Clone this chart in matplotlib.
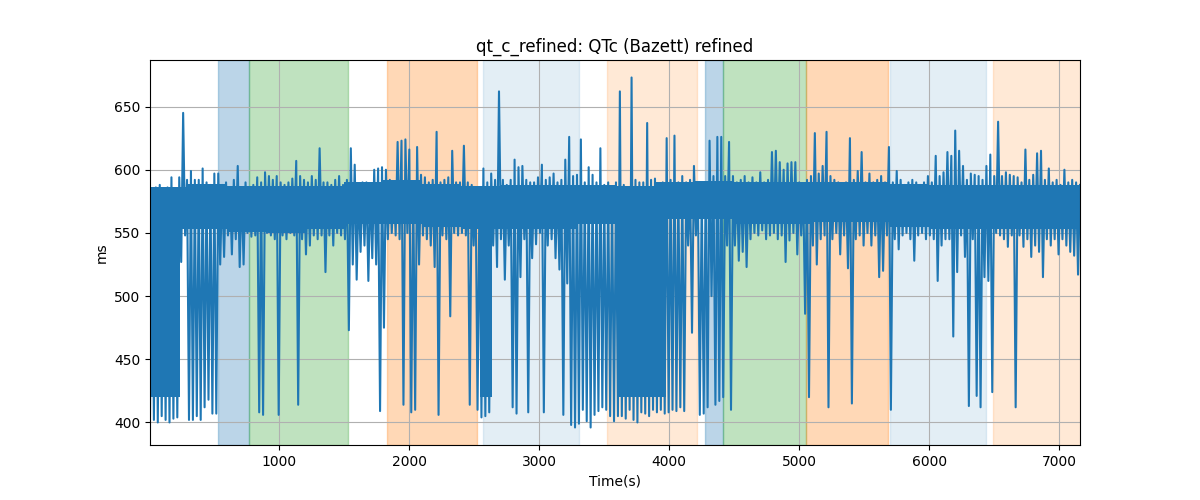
import numpy as np
import matplotlib
matplotlib.use("Agg")
import matplotlib.pyplot as plt

# QTc in 30 s bins: lowest and highest value in each bin
bin_width = 30
qtc_low = [
    405, 402, 400, 405, 402, 400, 403, 404, 527, 548,
    402, 402, 405, 402, 412, 418, 407, 407, 525, 531,
    548, 533, 545, 523, 525, 550, 547, 548, 408, 406,
    550, 548, 545, 406, 548, 545, 550, 548, 414, 545,
    533, 540, 548, 545, 548, 519, 548, 540, 550, 548,
    545, 473, 525, 513, 535, 540, 512, 530, 525, 409,
    475, 545, 550, 548, 545, 414, 550, 408, 410, 525,
    548, 545, 540, 523, 406, 548, 545, 484, 550, 548,
    550, 548, 414, 540, 410, 404, 405, 408, 540, 523,
    545, 513, 540, 412, 407, 515, 545, 408, 530, 541,
    550, 408, 540, 545, 530, 521, 406, 510, 398, 396,
    399, 410, 401, 396, 406, 409, 412, 410, 405, 401,
    405, 405, 403, 410, 402, 400, 408, 407, 405, 410,
    408, 410, 407, 408, 410, 409, 412, 409, 540, 471,
    548, 406, 407, 412, 500, 414, 417, 420, 540, 410,
    540, 528, 535, 523, 545, 550, 548, 552, 545, 548,
    550, 545, 548, 527, 544, 550, 533, 548, 486, 420,
    540, 525, 545, 548, 412, 545, 550, 533, 548, 522,
    415, 545, 548, 540, 550, 540, 548, 515, 520, 548,
    410, 545, 537, 548, 550, 545, 528, 548, 550, 545,
    548, 545, 512, 540, 545, 545, 468, 519, 548, 531,
    413, 545, 421, 412, 515, 512, 424, 550, 548, 545,
    539, 548, 412, 548, 539, 545, 531, 540, 535, 515,
    545, 540, 545, 533, 545, 540, 535, 532, 517,
]
qtc_high = [
    583, 586, 588, 582, 586, 594, 585, 594, 645, 592,
    599, 592, 592, 601, 590, 588, 597, 597, 588, 590,
    585, 592, 603, 585, 590, 586, 588, 594, 590, 598,
    595, 592, 595, 590, 588, 590, 593, 607, 595, 592,
    590, 595, 592, 617, 590, 590, 588, 592, 595, 588,
    592, 617, 604, 585, 590, 590, 588, 600, 601, 602,
    600, 592, 590, 622, 623, 624, 616, 590, 618, 596,
    594, 590, 592, 630, 590, 592, 594, 615, 590, 590,
    619, 590, 588, 585, 585, 601, 590, 597, 592, 662,
    592, 588, 592, 608, 602, 603, 592, 590, 590, 594,
    604, 592, 594, 597, 590, 592, 608, 626, 595, 596,
    624, 590, 602, 596, 590, 617, 588, 590, 585, 590,
    662, 588, 585, 673, 592, 590, 590, 637, 592, 593,
    588, 590, 625, 592, 627, 590, 595, 590, 592, 603,
    590, 585, 590, 623, 595, 626, 626, 595, 622, 595,
    590, 592, 595, 590, 594, 590, 598, 590, 592, 614,
    615, 606, 600, 605, 606, 606, 590, 588, 592, 595,
    629, 597, 603, 630, 595, 592, 590, 588, 590, 625,
    592, 599, 614, 590, 597, 590, 592, 595, 590, 618,
    590, 599, 592, 588, 590, 592, 590, 588, 590, 595,
    590, 611, 595, 598, 614, 611, 631, 615, 603, 592,
    597, 596, 595, 592, 603, 612, 595, 638, 595, 598,
    596, 595, 594, 590, 616, 592, 596, 613, 615, 592,
    601, 590, 592, 588, 600, 590, 592, 590, 588,
]

# the dense, solid part of the trace, read per 5 min block
block_width = 300
core_low = [553, 553, 551, 550, 553, 557, 557, 555, 553, 553, 553, 557,
            557, 561, 561, 557, 557, 559, 559, 555, 553, 553, 553, 553]
core_high = [586, 589, 587, 587, 587, 590, 592, 589, 587, 588, 588, 588,
             587, 590, 591, 590, 590, 590, 590, 589, 588, 588, 588, 588]

# stretches where the beats jump so often the trace becomes a solid block
dense_start = [8, 2545, 3600]
dense_end = [235, 2635, 3975]
dense_low = [420, 420, 420]
dense_high = [580, 580, 580]

# labelled segments (start s, end s, colour, alpha)
seg_start = [530, 766, 1825, 2565, 3521, 4277, 4416, 5050, 5698, 6490]
seg_end = [766, 1530, 2524, 3303, 4213, 4416, 5050, 5686, 6436, 7168]
seg_color = ["C0", "C2", "C1", "C0", "C1", "C0", "C2", "C1", "C0", "C1"]
seg_alpha = [0.3, 0.3, 0.3, 0.12, 0.17, 0.3, 0.3, 0.3, 0.12, 0.17]

# interleave low/high inside each bin
n = len(qtc_low)
starts = np.arange(n) * bin_width
t = np.column_stack([starts + 5, starts + 20]).ravel()
y = np.column_stack([qtc_low, qtc_high]).ravel()

fig, ax = plt.subplots(figsize=(12, 5), dpi=100)

for s, e, c, a in zip(seg_start, seg_end, seg_color, seg_alpha):
    ax.axvspan(s, e, color=c, alpha=a)

block_x = np.arange(len(core_low)) * block_width
ax.bar(block_x, np.array(core_high) - np.array(core_low), bottom=core_low,
       width=block_width, align="edge", color="C0", linewidth=0, zorder=2)
ax.bar(dense_start, np.array(dense_high) - np.array(dense_low), bottom=dense_low,
       width=np.array(dense_end) - np.array(dense_start), align="edge",
       color="C0", linewidth=0, zorder=2)
ax.plot(t, y, color="C0", zorder=2)

ax.set_xlim(t[0], t[-1])
ax.set_title("qt_c_refined: QTc (Bazett) refined")
ax.set_xlabel("Time(s)")
ax.set_ylabel("ms")
ax.grid(True)

plt.savefig("out.png")
